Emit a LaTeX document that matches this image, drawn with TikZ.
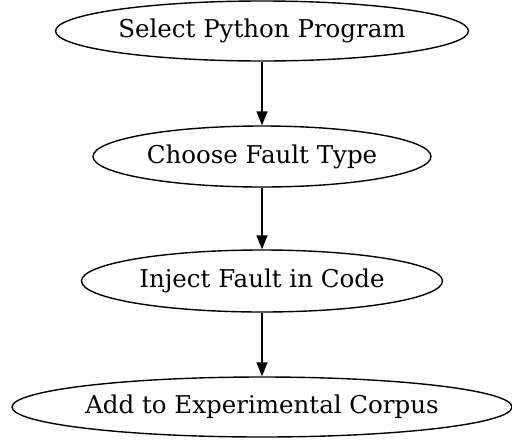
\documentclass[tikz,border=0pt]{standalone}
\usepackage{fontspec}
\setmainfont{DejaVu Serif}
\usetikzlibrary{shapes.geometric,arrows.meta}
\begin{document}
\begin{tikzpicture}[x=1pt,y=-1pt,
  stepnode/.style={draw,ellipse,inner sep=0pt,line width=1.4pt,font=\fontsize{24.5}{28}\selectfont},
  flow/.style={line width=1.4pt,-{Triangle[length=14pt,width=11pt]}}]
\useasboundingbox (0,0) rectangle (512,440);
\node[stepnode,minimum width=413pt,minimum height=60pt] (a) at (262,31) {Select Python Program};
\node[stepnode,minimum width=338pt,minimum height=61pt] (b) at (262,156.5) {Choose Fault Type};
\node[stepnode,minimum width=361pt,minimum height=62pt] (c) at (262,281) {Inject Fault in Code};
\node[stepnode,minimum width=500pt,minimum height=60pt] (d) at (262,407) {Add to Experimental Corpus};
\draw[flow] (a) -- (b);
\draw[flow] (b) -- (c);
\draw[flow] (c) -- (d);
\end{tikzpicture}
\end{document}
